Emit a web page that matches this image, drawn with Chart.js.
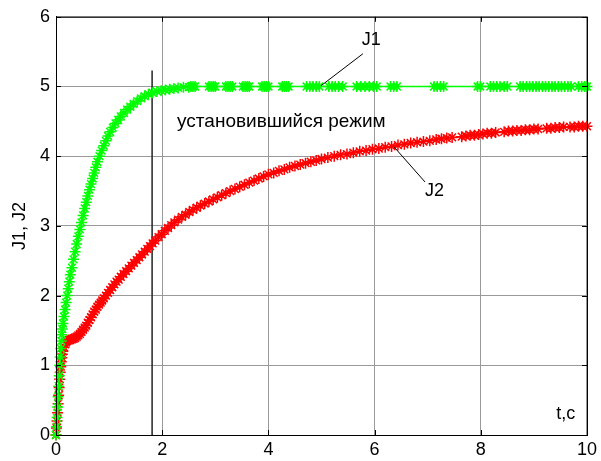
<!DOCTYPE html>
<html>
<head>
<meta charset="utf-8">
<script src="https://cdn.jsdelivr.net/npm/chart.js@4.4.1/dist/chart.umd.min.js"></script>
<style>
  html, body { margin: 0; padding: 0; background: #fff; }
  #wrap { width: 601px; height: 461px; position: relative; }
</style>
</head>
<body>
<div id="wrap"><canvas id="plot"></canvas></div>
<script>
const FONT = "'Liberation Sans', Arial, sans-serif";

// J1 — green
const tJ1 = [0, 0.01, 0.02, 0.03, 0.04, 0.05, 0.06, 0.07, 0.08, 0.09, 0.10, 0.11, 0.12, 0.13, 0.15, 0.17, 0.19, 0.21, 0.23, 0.25,
  0.27, 0.30, 0.33, 0.36, 0.39, 0.42, 0.45, 0.48, 0.51, 0.54, 0.57, 0.60, 0.63, 0.66, 0.69, 0.72, 0.75, 0.78, 0.82, 0.86,
  0.90, 0.94, 0.98, 1.02, 1.07, 1.12, 1.17, 1.22, 1.28, 1.34, 1.40, 1.46, 1.53, 1.60, 1.67, 1.74, 1.82, 1.90, 1.98, 2.06,
  2.14, 2.22, 2.30, 2.40,
  2.50, 2.54, 2.58, 2.62, 2.88, 2.92, 2.96, 3.00, 3.20, 3.24, 3.28, 3.32, 3.52, 3.56, 3.60, 3.64, 3.88, 3.92, 3.96, 4.00,
  4.26, 4.30, 4.34, 4.38, 4.72, 4.78, 4.84, 4.90, 4.96, 5.14, 5.20, 5.26, 5.32, 5.40, 5.66, 5.74, 5.82, 5.90, 5.98, 6.04,
  6.30, 6.36, 6.42, 7.12, 7.18, 7.24, 7.30, 7.94, 7.99, 8.18, 8.24, 8.30, 8.36, 8.44, 8.50,
  8.74, 8.80, 8.86, 8.92, 8.98, 9.04, 9.10, 9.16, 9.22, 9.28, 9.34, 9.40, 9.46, 9.52, 9.58, 9.64, 9.70,
  9.84, 9.90, 9.96, 10.0];
const yJ1 = [0, 0.12, 0.25, 0.40, 0.55, 0.70, 0.85, 1.00, 1.12, 1.24, 1.35, 1.44, 1.52, 1.60, 1.70, 1.80, 1.90, 2.00, 2.10, 2.20,
  2.30, 2.40, 2.52, 2.63, 2.74, 2.85, 2.95, 3.05, 3.15, 3.25, 3.34, 3.43, 3.52, 3.60, 3.68, 3.76, 3.84, 3.92, 4.00, 4.08,
  4.15, 4.22, 4.29, 4.35, 4.41, 4.47, 4.52, 4.57, 4.62, 4.67, 4.71, 4.75, 4.79, 4.83, 4.86, 4.89, 4.91, 4.93, 4.94, 4.95,
  4.96, 4.97, 4.98, 4.99,
  4.99, 5.00, 5.00, 5.00, 5.00, 5.00, 5.00, 5.00, 5.00, 5.00, 5.00, 5.00, 5.00, 5.00, 5.00, 5.00, 5.00, 5.00, 5.00, 5.00,
  5.00, 5.00, 5.00, 5.00, 5.00, 5.00, 5.00, 5.00, 5.00, 5.00, 5.00, 5.00, 5.00, 5.00, 5.00, 5.00, 5.00, 5.00, 5.00, 5.00,
  5.00, 5.00, 5.00, 5.00, 5.00, 5.00, 5.00, 5.00, 5.00, 5.00, 5.00, 5.00, 5.00, 5.00, 5.00,
  5.00, 5.00, 5.00, 5.00, 5.00, 5.00, 5.00, 5.00, 5.00, 5.00, 5.00, 5.00, 5.00, 5.00, 5.00, 5.00, 5.00,
  5.00, 5.00, 5.00, 5.00];

// J2 — red
const tJ2 = [0, 0.01, 0.02, 0.03, 0.04, 0.05, 0.06, 0.07, 0.08, 0.09, 0.10, 0.11, 0.12, 0.13, 0.15, 0.17, 0.19, 0.21, 0.24, 0.27,
  0.30, 0.33, 0.36, 0.39, 0.42, 0.45, 0.48, 0.51, 0.54, 0.57, 0.60, 0.63, 0.66, 0.69, 0.72, 0.75, 0.78, 0.81, 0.84, 0.87,
  0.90, 0.94, 0.98, 1.02, 1.06, 1.10, 1.14, 1.18, 1.22, 1.27, 1.32, 1.37, 1.42, 1.47, 1.52, 1.57, 1.62, 1.67, 1.72, 1.77,
  1.82, 1.87, 1.93, 1.99, 2.05, 2.11, 2.17, 2.23, 2.30, 2.37, 2.44, 2.51, 2.58, 2.65, 2.72, 2.80, 2.88, 2.96, 3.04, 3.12,
  3.20, 3.28, 3.37, 3.46, 3.55, 3.64, 3.73, 3.82, 3.91, 4.00, 4.10, 4.20, 4.30, 4.40, 4.50, 4.60, 4.70, 4.80, 4.90, 5.00,
  5.12, 5.24, 5.36, 5.48, 5.60, 5.72, 5.84, 5.96, 6.08, 6.20, 6.32, 6.44, 6.56, 6.68, 6.80, 6.92, 7.04, 7.16, 7.26, 7.36,
  7.46, 7.64, 7.72, 7.80, 7.88, 7.96, 8.04, 8.12, 8.20, 8.28, 8.44, 8.52, 8.60, 8.68, 8.76, 8.84, 8.92, 9.00, 9.08, 9.24,
  9.32, 9.40, 9.48, 9.56, 9.68, 9.76, 9.84, 9.92, 10.0];
const yJ2 = [0, 0.10, 0.20, 0.32, 0.45, 0.57, 0.68, 0.80, 0.90, 0.98, 1.05, 1.11, 1.16, 1.20, 1.26, 1.30, 1.33, 1.35, 1.36, 1.37,
  1.38, 1.38, 1.39, 1.41, 1.43, 1.45, 1.48, 1.51, 1.54, 1.57, 1.61, 1.65, 1.69, 1.73, 1.77, 1.80, 1.84, 1.87, 1.90, 1.93,
  1.96, 2.00, 2.04, 2.08, 2.12, 2.16, 2.20, 2.23, 2.27, 2.31, 2.35, 2.39, 2.43, 2.47, 2.51, 2.55, 2.59, 2.63, 2.67, 2.71,
  2.75, 2.79, 2.84, 2.88, 2.93, 2.97, 3.01, 3.05, 3.09, 3.13, 3.16, 3.20, 3.23, 3.26, 3.29, 3.32, 3.35, 3.38, 3.41, 3.44,
  3.47, 3.50, 3.53, 3.56, 3.59, 3.62, 3.65, 3.68, 3.71, 3.74, 3.76, 3.79, 3.81, 3.84, 3.86, 3.88, 3.90, 3.92, 3.94, 3.96,
  3.98, 4.00, 4.02, 4.03, 4.05, 4.07, 4.08, 4.10, 4.11, 4.13, 4.14, 4.16, 4.17, 4.19, 4.20, 4.21, 4.22, 4.24, 4.25, 4.26,
  4.27, 4.28, 4.29, 4.30, 4.30, 4.31, 4.32, 4.33, 4.33, 4.34, 4.35, 4.36, 4.36, 4.37, 4.37, 4.38, 4.38, 4.39, 4.39, 4.40,
  4.40, 4.41, 4.41, 4.42, 4.42, 4.42, 4.43, 4.43, 4.43];

// vertical marker for the steady state
const tMark = [1.81, 1.81];
const yMark = [0, 5.23];

const xTicks = [0, 2, 4, 6, 8, 10];
const yTicks = [0, 1, 2, 3, 4, 5, 6];

// text annotations, in data units
const notes = [
  { text: 'J1', t: 5.76, v: 5.67, size: 18 },
  { text: 'J2', t: 6.95, v: 3.50, size: 18 },
  { text: 'установившийся режим', t: 2.28, v: 4.49, size: 19 },
  { text: 't,c', t: 9.42, v: 0.30, size: 18 }
];
const leaders = [
  [5.78, 5.47, 4.99, 5.01],
  [6.37, 4.13, 6.95, 3.63]
];

const pts = (ts, ys) => ts.map((t, i) => ({ x: t, y: ys[i] }));

// box, inner ticks and text notes, MATLAB style
const boxPlugin = {
  id: 'box',
  afterDatasetsDraw(chart) {
    const { ctx, chartArea: a, scales: { x, y } } = chart;
    ctx.save();
    ctx.strokeStyle = '#000';
    ctx.lineWidth = 1;
    ctx.strokeRect(a.left + 0.5, a.top + 0.5, a.right - a.left, a.bottom - a.top);
    ctx.beginPath();
    xTicks.forEach(v => {
      const px = Math.round(x.getPixelForValue(v)) + 0.5;
      ctx.moveTo(px, a.bottom); ctx.lineTo(px, a.bottom - 5);
      ctx.moveTo(px, a.top); ctx.lineTo(px, a.top + 5);
    });
    yTicks.forEach(v => {
      const py = Math.round(y.getPixelForValue(v)) + 0.5;
      ctx.moveTo(a.left, py); ctx.lineTo(a.left + 5, py);
      ctx.moveTo(a.right, py); ctx.lineTo(a.right - 5, py);
    });
    ctx.stroke();

    ctx.beginPath();
    leaders.forEach(([t1, v1, t2, v2]) => {
      ctx.moveTo(x.getPixelForValue(t1), y.getPixelForValue(v1));
      ctx.lineTo(x.getPixelForValue(t2), y.getPixelForValue(v2));
    });
    ctx.stroke();

    ctx.fillStyle = '#000';
    ctx.textAlign = 'left';
    ctx.textBaseline = 'middle';
    notes.forEach(n => {
      ctx.font = n.size + 'px ' + FONT;
      ctx.fillText(n.text, x.getPixelForValue(n.t), y.getPixelForValue(n.v));
    });
    ctx.restore();
  }
};

const starSet = (label, data, color) => ({
  label,
  data,
  showLine: true,
  borderColor: color,
  borderWidth: 1.5,
  pointStyle: 'star',
  pointRadius: 5.5,
  pointBorderColor: color,
  pointBorderWidth: 1.5,
  pointBackgroundColor: color,
  clip: 8
});

new Chart(document.getElementById('plot').getContext('2d'), {
  type: 'scatter',
  data: {
    datasets: [
      starSet('J1', pts(tJ1, yJ1), '#00ff00'),
      starSet('J2', pts(tJ2, yJ2), '#ff0000'),
      {
        label: 'mark',
        data: pts(tMark, yMark),
        showLine: true,
        borderColor: '#222',
        borderWidth: 1.5,
        pointRadius: 0
      }
    ]
  },
  options: {
    responsive: true,
    maintainAspectRatio: false,
    animation: false,
    layout: { padding: { top: 14, right: 10, left: 0, bottom: 0 } },
    plugins: { legend: { display: false }, tooltip: { enabled: false } },
    scales: {
      x: {
        type: 'linear',
        min: 0,
        max: 10,
        afterBuildTicks: s => { s.ticks = xTicks.map(v => ({ value: v })); },
        afterFit: s => { s.height = 26; },
        border: { display: true, color: '#000', width: 1 },
        grid: { color: '#9a9a9a', lineWidth: 1, drawTicks: false },
        ticks: {
          color: '#000',
          font: { family: FONT, size: 18 },
          padding: 4,
          maxRotation: 0,
          autoSkip: false
        }
      },
      y: {
        type: 'linear',
        min: 0,
        max: 6,
        afterBuildTicks: s => { s.ticks = yTicks.map(v => ({ value: v })); },
        afterFit: s => { s.width = 56; },
        border: { display: true, color: '#000', width: 1 },
        grid: { color: '#9a9a9a', lineWidth: 1, drawTicks: false },
        title: {
          display: true,
          text: 'J1, J2',
          color: '#000',
          font: { family: FONT, size: 18 },
          padding: { top: 9, bottom: 0 }
        },
        ticks: {
          color: '#000',
          font: { family: FONT, size: 18 },
          padding: 6
        }
      }
    }
  },
  plugins: [boxPlugin]
});
</script>
</body>
</html>
